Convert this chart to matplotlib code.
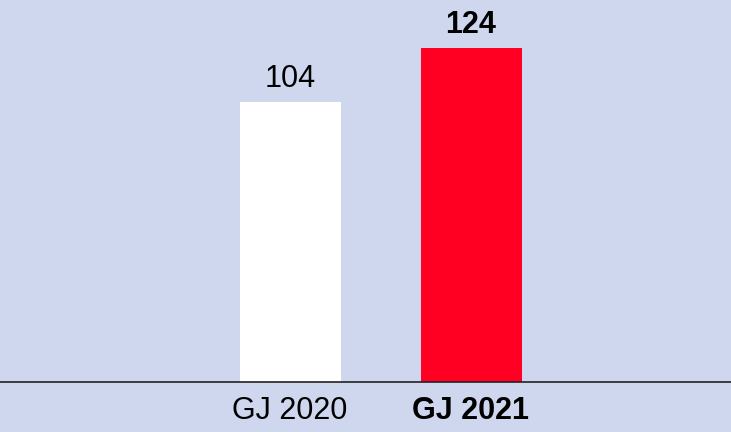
"""Bar chart: GJ 2020 vs GJ 2021."""

import matplotlib

matplotlib.use("Agg")
import matplotlib.pyplot as plt

categories = ["GJ 2020", "GJ 2021"]
values = [104, 124]
bar_colors = ["#ffffff", "#ff0022"]
bold = [False, True]

BG = "#cfd7ee"

plt.rcParams["font.family"] = ["Liberation Sans", "DejaVu Sans"]

fig = plt.figure(figsize=(7.31, 4.32), dpi=100, facecolor=BG)
ax = fig.add_axes([0.0, 50 / 432, 1.0, 382 / 432])
ax.set_facecolor(BG)

x = list(range(len(categories)))
ax.bar(x, values, width=101 / 181, color=bar_colors, edgecolor="none")

for xi, v, b in zip(x, values, bold):
    ax.annotate(
        f"{v}",
        (xi, v),
        xytext=(0, 6),
        textcoords="offset points",
        ha="center",
        va="bottom",
        fontsize=22,
        fontweight="bold" if b else "normal",
    )

ax.set_xlim(-290 / 181, 441 / 181)
ax.set_ylim(0, 382 / (280 / 104))

ax.set_xticks(x)
ax.set_xticklabels(categories, fontsize=22)
for lbl, b in zip(ax.get_xticklabels(), bold):
    if b:
        lbl.set_fontweight("bold")
ax.tick_params(axis="x", length=0, pad=10)
ax.set_yticks([])

for side in ("top", "right", "left"):
    ax.spines[side].set_visible(False)
ax.spines["bottom"].set_linewidth(1.2)
ax.spines["bottom"].set_color("#222222")

fig.savefig("out.png", dpi=100, facecolor=BG)
